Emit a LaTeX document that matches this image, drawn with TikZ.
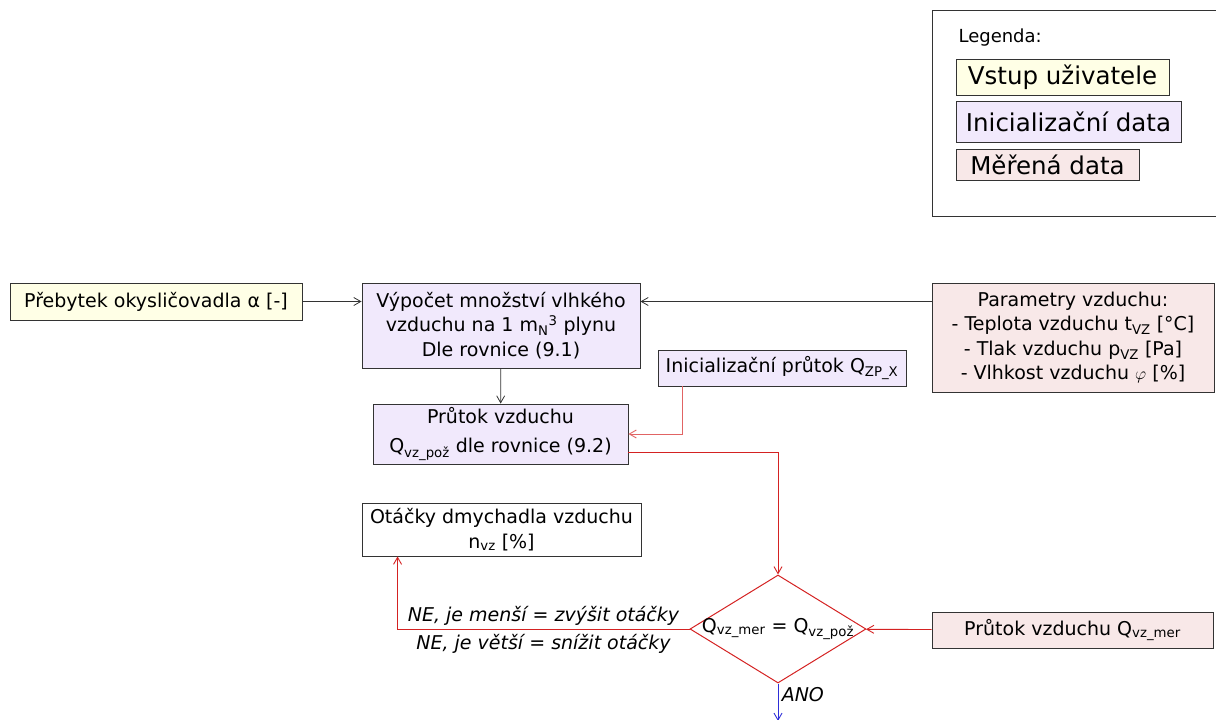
\documentclass[tikz,border=0pt]{standalone}
\usepackage{fontspec}
\setmainfont{DejaVu Sans}
\usetikzlibrary{arrows.meta,shapes.geometric}

\definecolor{vstupfill}{HTML}{FFFFE6}
\definecolor{initfill}{HTML}{F1E9FC}
\definecolor{merfill}{HTML}{F8E8E8}
\definecolor{boxline}{HTML}{333333}
\definecolor{redline}{HTML}{D42222}
\definecolor{blueline}{HTML}{2E2ED8}

\tikzset{
	box/.style = {draw=boxline, line width=0.9pt, inner sep=0pt, align=center},
	vstup/.style = {box, fill=vstupfill},
	init/.style = {box, fill=initfill},
	mereni/.style = {box, fill=merfill},
	legitem/.style = {font=\fontsize{24.5}{28}\selectfont},
	nelabel/.style = {font=\itshape\fontsize{19}{22}\selectfont},
	tip/.style = {-{Straight Barb[length=7pt,width=8pt]}},
	blackarrow/.style = {tip, draw=boxline, line width=0.8pt},
	redarrow/.style = {tip, draw=redline, line width=0.9pt},
}

\begin{document}
\begin{tikzpicture}[x=1pt, y=-1pt, font=\fontsize{19}{24.5}\selectfont]
	\useasboundingbox (0,0) rectangle (1216,720);
	
	% Legend
	\draw[boxline, line width=0.8pt] (932,10) rectangle (1230,216);
	\node[anchor=west, font=\fontsize{18}{20}\selectfont] (legtitle) at (955,38) {Legenda:};
	\node[vstup, legitem, minimum width=213, minimum height=36] (legvstup) at (1062.5,77) {Vstup uživatele};
	\node[init, legitem, minimum width=225, minimum height=41] (leginit) at (1068.5,121.5) {Inicializační data};
	\node[mereni, legitem, minimum width=183, minimum height=31] (legmer) at (1047.5,164.5) {Měřená data};
	
	% Input and calculation boxes
	\node[vstup, minimum width=292, minimum height=37] (prebytek) at (156,301.5) {Přebytek okysličovadla α [-]};
	\node[init, minimum width=278, minimum height=85] (vypocet) at (501,325.5)
		{Výpočet množství vlhkého\\vzduchu na 1 m\textsubscript{N}\textsuperscript{3} plynu\\Dle rovnice (9.1)};
	\node[mereni, minimum width=282, minimum height=109] (parametry) at (1073,337.5)
		{Parametry vzduchu:\\- Teplota vzduchu t\textsubscript{VZ} [°C]\\- Tlak vzduchu p\textsubscript{VZ} [Pa]\\- Vlhkost vzduchu $\varphi$ [\%]};
	\node[init, minimum width=255, minimum height=60, font=\fontsize{19}{29}\selectfont] (prutok) at (500.5,434)
		{Průtok vzduchu\\Q\textsubscript{vz\_pož} dle rovnice (9.2)};
	\node[init, minimum width=248, minimum height=36] (iniprutok) at (782,368) {Inicializační průtok Q\textsubscript{ZP\_X}};
	\node[mereni, minimum width=281, minimum height=36] (merprutok) at (1072.5,630) {Průtok vzduchu Q\textsubscript{vz\_mer}};
	\node[box, fill=white, minimum width=279, minimum height=53] (otacky) at (501.5,529.5)
		{Otáčky dmychadla vzduchu\\n\textsubscript{vz} [\%]};
	
	% Decision
	\node[diamond, draw=redline, line width=1pt, minimum width=176, minimum height=108, inner sep=0pt] (rovnost) at (778,629)
		{\makebox[0pt]{Q\textsubscript{vz\_mer} = Q\textsubscript{vz\_pož}}};
	\coordinate (konec) at (778,721);
	
	% Connections
	\draw[blackarrow] (prebytek.east) -- (prebytek.east -| vypocet.west);
	\draw[blackarrow] (parametry.west |- prebytek) -- (vypocet.east |- prebytek);
	\draw[blackarrow] (vypocet) -- (prutok);
	\draw[redarrow, draw=redline!70] ([xshift=25pt]iniprutok.south west) |- (prutok.east);
	\draw[redarrow] ([yshift=-18pt]prutok.east) -| (rovnost.north);
	\draw[redarrow] (merprutok) -- (rovnost);
	\draw[redarrow] (rovnost.west) -| ([xshift=36pt]otacky.south west)
		node[pos=0.25, above, nelabel] {NE, je menší = zvýšit otáčky}
		node[pos=0.25, below, yshift=-2pt, nelabel] {NE, je větší = snížit otáčky};
	\draw[tip, draw=blueline, line width=0.9pt] (rovnost.south) -- (konec)
		node[pos=0.3, right, nelabel] {ANO};
	
\end{tikzpicture}
\end{document}
